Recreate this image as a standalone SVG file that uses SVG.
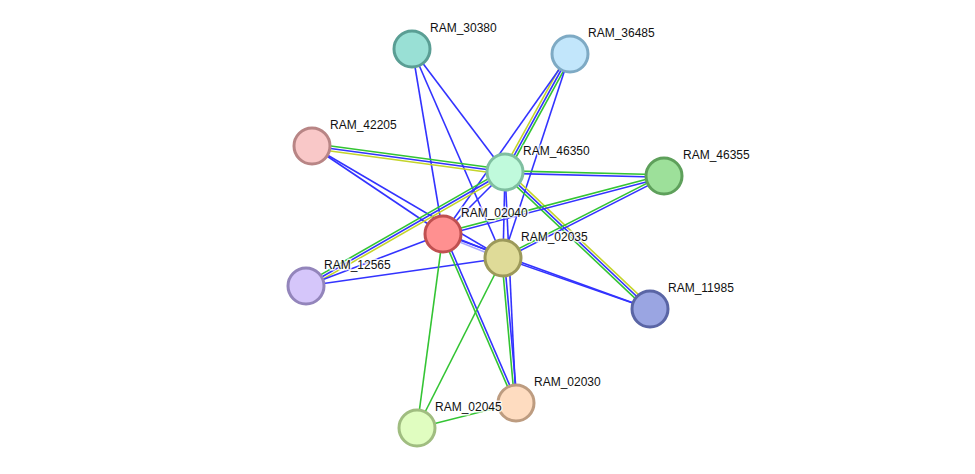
<svg xmlns="http://www.w3.org/2000/svg" width="975" height="474" viewBox="0 0 975 474">
<style>
.e line{stroke-width:1.6;fill:none}
.b{stroke:#3333ff}
.g{stroke:#33c433}
.y{stroke:#c4d42a}
.p{stroke:#a8a8ff}
.n circle{stroke-width:3}
.n text{font-family:"Liberation Sans",Arial,sans-serif;font-size:12px;fill:#111;stroke:#fff;stroke-width:3;stroke-opacity:0.8;paint-order:stroke;stroke-linejoin:round}
</style>
<rect width="975" height="474" fill="#fff"/>
<g id="connectors" class="e">
<line class="b" x1="412" y1="49" x2="505" y2="172"/>
<line class="b" x1="412" y1="49" x2="443" y2="234"/>
<line class="b" x1="412" y1="49" x2="503" y2="258"/>
<line class="y" x1="567.81" y1="52.79" x2="502.81" y2="170.79"/>
<line class="b" x1="570" y1="54" x2="505" y2="172"/>
<line class="g" x1="572.19" y1="55.21" x2="507.19" y2="173.21"/>
<line class="b" x1="570" y1="54" x2="443" y2="234"/>
<line class="b" x1="570" y1="54" x2="503" y2="258"/>
<line class="g" x1="312.33" y1="143.52" x2="505.33" y2="169.52"/>
<line class="b" x1="312" y1="146" x2="505" y2="172"/>
<line class="y" x1="311.67" y1="148.48" x2="504.67" y2="174.48"/>
<line class="b" x1="312" y1="146" x2="443" y2="234"/>
<line class="b" x1="312" y1="146" x2="503" y2="258"/>
<line class="g" x1="304.76" y1="283.83" x2="503.76" y2="169.83"/>
<line class="b" x1="306" y1="286" x2="505" y2="172"/>
<line class="y" x1="307.24" y1="288.17" x2="506.24" y2="174.17"/>
<line class="b" x1="306" y1="286" x2="443" y2="234"/>
<line class="b" x1="306" y1="286" x2="503" y2="258"/>
<line class="g" x1="505" y1="170.75" x2="664" y2="174.75"/>
<line class="b" x1="505" y1="173.25" x2="664" y2="177.25"/>
<line class="b" x1="505" y1="172" x2="443" y2="234"/>
<line class="b" x1="505" y1="172" x2="503" y2="258"/>
<line class="b" x1="505" y1="172" x2="516" y2="403"/>
<line class="g" x1="503.28" y1="173.82" x2="648.28" y2="310.82"/>
<line class="b" x1="505" y1="172" x2="650" y2="309"/>
<line class="y" x1="506.72" y1="170.18" x2="651.72" y2="307.18"/>
<line class="g" x1="663.68" y1="174.79" x2="442.68" y2="232.79"/>
<line class="b" x1="664.32" y1="177.21" x2="443.32" y2="235.21"/>
<line class="g" x1="663.43" y1="174.89" x2="502.43" y2="256.89"/>
<line class="b" x1="664.57" y1="177.11" x2="503.57" y2="259.11"/>
<line class="b" x1="443.46" y1="232.84" x2="503.46" y2="256.84"/>
<line class="p" x1="442.54" y1="235.16" x2="502.54" y2="259.16"/>
<line class="g" x1="441.85" y1="234.5" x2="514.85" y2="403.5"/>
<line class="b" x1="444.15" y1="233.5" x2="517.15" y2="402.5"/>
<line class="g" x1="443" y1="234" x2="417" y2="428"/>
<line class="g" x1="501.75" y1="258.11" x2="514.75" y2="403.11"/>
<line class="b" x1="504.25" y1="257.89" x2="517.25" y2="402.89"/>
<line class="g" x1="503" y1="258" x2="417" y2="428"/>
<line class="g" x1="516" y1="403" x2="417" y2="428"/>
<line class="b" x1="503" y1="258" x2="650" y2="309"/>
<line class="b" x1="443" y1="234" x2="650" y2="309"/>
</g>
<g id="RAM_30380" class="n"><circle cx="412" cy="49" r="18" fill="#99e0d5" stroke="#5a9e94"/><text x="430" y="32">RAM_30380</text></g>
<g id="RAM_36485" class="n"><circle cx="570" cy="54" r="18" fill="#c2e6fb" stroke="#7eaac4"/><text x="588" y="37">RAM_36485</text></g>
<g id="RAM_42205" class="n"><circle cx="312" cy="146" r="18" fill="#f9c8c8" stroke="#b88585"/><text x="330" y="129">RAM_42205</text></g>
<g id="RAM_46350" class="n"><circle cx="505" cy="172" r="18" fill="#c0fadc" stroke="#7fbfa0"/><text x="523" y="155">RAM_46350</text></g>
<g id="RAM_46355" class="n"><circle cx="664" cy="176" r="18" fill="#9de09a" stroke="#5ea05b"/><text x="683" y="159">RAM_46355</text></g>
<g id="RAM_02040" class="n"><circle cx="443" cy="234" r="18" fill="#ff9090" stroke="#c05050"/><text x="461" y="217">RAM_02040</text></g>
<g id="RAM_02035" class="n"><circle cx="503" cy="258" r="18" fill="#dfdb98" stroke="#9c995a"/><text x="521" y="241">RAM_02035</text></g>
<g id="RAM_12565" class="n"><circle cx="306" cy="286" r="18" fill="#d5c6fa" stroke="#9385bb"/><text x="324" y="269">RAM_12565</text></g>
<g id="RAM_11985" class="n"><circle cx="650" cy="309" r="18" fill="#9aa5e2" stroke="#5a65a5"/><text x="668" y="292">RAM_11985</text></g>
<g id="RAM_02030" class="n"><circle cx="516" cy="403" r="18" fill="#fedcc0" stroke="#bd9c80"/><text x="534" y="386">RAM_02030</text></g>
<g id="RAM_02045" class="n"><circle cx="417" cy="428" r="18" fill="#e0fdc0" stroke="#a0bd80"/><text x="435" y="411">RAM_02045</text></g>
</svg>
